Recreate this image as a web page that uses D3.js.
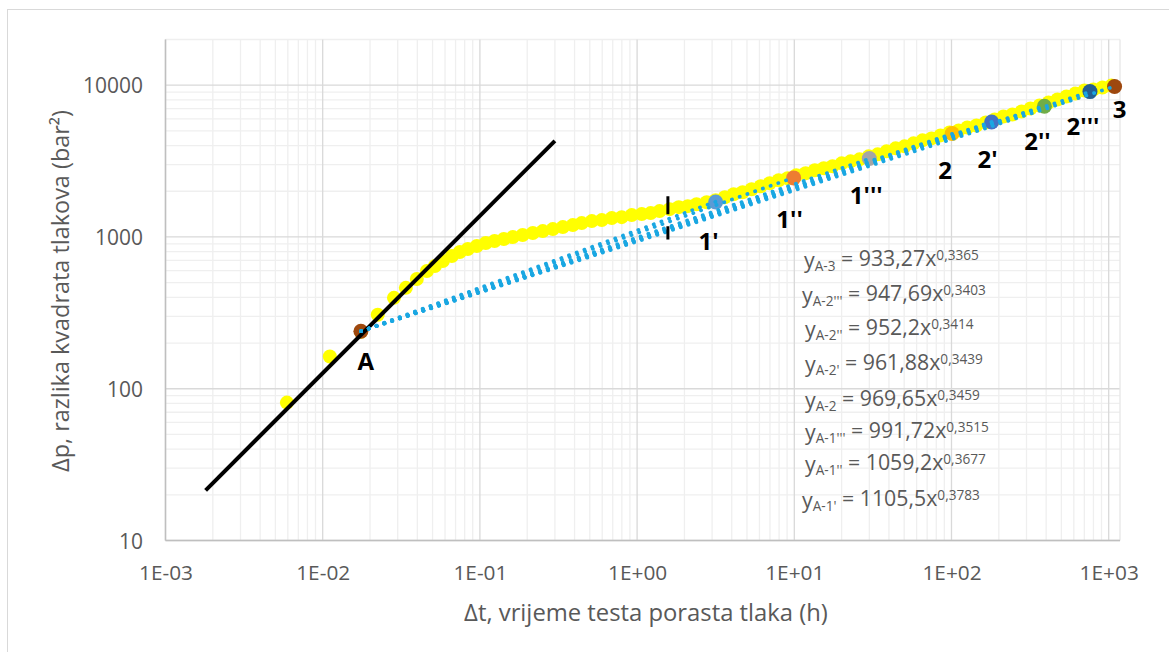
<!DOCTYPE html>
<html><head><meta charset="utf-8">
<script src="https://cdn.jsdelivr.net/npm/d3@7"></script>
<style>
html,body{margin:0;padding:0;background:#fff;}
svg{display:block;font-family:"Open Sans",sans-serif;}
</style></head>
<body>
<svg id="chart" width="1169" height="652"></svg>
<script>
// ---------- DATA ----------
const xTickValues = [1e-3, 1e-2, 1e-1, 1, 10, 100, 1000];
const xTickLabels = ["1E-03","1E-02","1E-01","1E+00","1E+01","1E+02","1E+03"];
const yTickValues = [10, 100, 1000, 10000];
const yTickLabels = ["10","100","1000","10000"];
const xDomain = [1e-3, 1180];
const yDomain = [10, 20000];

// measured pressure-buildup data (yellow)
const dataT = [0.00592,0.0111,0.0175,0.0224,0.0284,0.0338,0.0397,0.046,0.0517,0.0581,0.0663,0.0745,0.0838,0.0956,0.109,0.124,0.142,0.162,0.187,0.217,0.251,0.291,0.337,0.390,0.444,0.515,0.596,0.690,0.798,0.924,1.07,1.22,1.39,1.61,1.84,2.10,2.39,2.77,3.16,3.61,4.11,4.69,5.35,6.11,6.97,7.95,9.07,10.3,11.8,13.5,15.4,17.5,20.0,22.8,26.0,29.7,33.9,38.6,44.1,50.3,57.3,65.4,74.6,85.1,97.1,111,126,144,165,188,214,244,279,318,363,414,472,538,614,701,799,912,1040];
const dataP = [81,163,237,307,397,462,529,597,644,695,749,796,833,871,912,940,969,998,1029,1061,1093,1127,1161,1197,1234,1272,1291,1331,1351,1393,1414,1436,1480,1525,1572,1596,1644,1695,1747,1828,1913,1972,2063,2159,2259,2363,2436,2550,2628,2750,2835,2921,3056,3150,3247,3398,3502,3664,3835,3954,4137,4329,4462,4669,4885,5034,5268,5429,5680,5943,6219,6412,6709,7020,7346,7687,8043,8416,8808,9217,9357,9645,9940];

// selected points
const pointNames  = ["A","1'","1''","1'''","2","2'","2''","2'''","3"];
const pointT      = [0.0175, 3.16, 9.9, 30, 101, 180, 390, 760, 1090];
const pointP      = [239, 1700, 2450, 3290, 4800, 5720, 7270, 9070, 9800];
const pointColors = ["#9e480e","#5b9bd5","#ed7d31","#a5a5a5","#ffc000","#4472c4","#70ad47","#255e91","#9e480e"];

// power-law trendlines from A to each point: y = a * x^b
const eqNames  = ["A-3","A-2'''","A-2''","A-2'","A-2","A-1'''","A-1''","A-1'"];
const eqTarget = ["3","2'''","2''","2'","2","1'''","1''","1'"];
const eqA = [933.27, 947.69, 952.2, 961.88, 969.65, 991.72, 1059.2, 1105.5];
const eqB = [0.3365, 0.3403, 0.3414, 0.3439, 0.3459, 0.3515, 0.3677, 0.3783];

// unit-slope (wellbore storage) line
const storageT = [0.0018, 0.30];
const storageP = [21.4, 4300];

// vertical dashed marker
const markerT = [1.57, 1.57];
const markerP = [964, 1854];

// ---------- LAYOUT ----------
const L = 165.5, R = 1120, T = 39.5, B = 540.5;
const labelOffsets = [[5,30],[-7,40],[-4,42],[-3,37],[-7,37],[-4,37],[-7,35],[-7,35],[5,23]];
const eqPos = [[804,268],[802,303],[805,337],[805,372],[805,408],[805,440],[805,472],[802,508]];

const svg = d3.select("#chart");
const x = d3.scaleLog().domain(xDomain).range([L, R]);
const y = d3.scaleLog().domain(yDomain).range([B, T]);

function fitFont(sel, target) {
  const base = 20;
  sel.attr("font-size", base);
  const w = sel.node().getComputedTextLength();
  const fs = base * target / w;
  sel.attr("font-size", fs);
  return fs;
}

// outer chart border
svg.append("rect").attr("x",7.5).attr("y",9.5).attr("width",1200).attr("height",700)
  .attr("fill","#fff").attr("stroke","#d9d9d9").attr("stroke-width",1);

// gridlines
const g = svg.append("g");
const minorX = [], minorY = [];
for (let e = -3; e <= 3; e++) for (let m = 2; m <= 9; m++) { const v = m*Math.pow(10,e); if (v < xDomain[1]) minorX.push(v); }
for (let e = 1; e <= 4; e++) for (let m = 2; m <= 9; m++) { const v = m*Math.pow(10,e); if (v <= yDomain[1]) minorY.push(v); }
g.selectAll(".mx").data(minorX).enter().append("line")
  .attr("x1",d=>x(d)).attr("x2",d=>x(d)).attr("y1",T).attr("y2",B)
  .attr("stroke","#efefef").attr("stroke-width",1.3);
g.selectAll(".my").data(minorY).enter().append("line")
  .attr("y1",d=>y(d)).attr("y2",d=>y(d)).attr("x1",L).attr("x2",R)
  .attr("stroke","#efefef").attr("stroke-width",1.3);
g.selectAll(".Mx").data(xTickValues).enter().append("line")
  .attr("x1",d=>x(d)).attr("x2",d=>x(d)).attr("y1",T).attr("y2",B)
  .attr("stroke","#d9d9d9").attr("stroke-width",1.3);
g.selectAll(".My").data(yTickValues).enter().append("line")
  .attr("y1",d=>y(d)).attr("y2",d=>y(d)).attr("x1",L).attr("x2",R)
  .attr("stroke","#d9d9d9").attr("stroke-width",1.3);
g.append("line").attr("x1",R).attr("x2",R).attr("y1",T).attr("y2",B).attr("stroke","#e6e6e6").attr("stroke-width",1.3);
g.append("line").attr("x1",L).attr("x2",L).attr("y1",T).attr("y2",B).attr("stroke","#bfbfbf").attr("stroke-width",1.5);
g.append("line").attr("x1",L).attr("x2",R).attr("y1",B).attr("y2",B).attr("stroke","#bfbfbf").attr("stroke-width",1.3);

// axes
const xAxis = d3.axisBottom(x).tickValues(xTickValues).tickSize(0)
  .tickFormat((d,i)=>xTickLabels[i]);
const xa = svg.append("g").attr("transform",`translate(0,${B})`).call(xAxis);
xa.select(".domain").remove();
const xt0 = xa.select(".tick text").attr("font-family","Open Sans");
const xfs = fitFont(xt0, 54);
xa.selectAll("text").attr("font-family","Open Sans").attr("font-size",xfs).attr("fill","#595959")
  .attr("y",0).attr("dy",0).attr("transform","translate(0,39)");
const yAxis = d3.axisLeft(y).tickValues(yTickValues).tickSize(0)
  .tickFormat((d,i)=>yTickLabels[i]);
const ya = svg.append("g").attr("transform",`translate(${L},0)`).call(yAxis);
ya.select(".domain").remove();
const yt0 = ya.selectAll(".tick text").filter((d,i)=>i===3).attr("font-family","Open Sans");
const yfs = fitFont(yt0, 60);
ya.selectAll("text").attr("font-family","Open Sans").attr("font-size",yfs).attr("fill","#595959")
  .attr("x",-22.5).attr("dy","0.36em");

// axis titles
const xTitle = svg.append("text").attr("x",646).attr("y",621).attr("text-anchor","middle")
  .attr("fill","#595959").text("Δt, vrijeme testa porasta tlaka (h)");
fitFont(xTitle, 364);
const yTitle = svg.append("text").attr("transform","translate(61,291) rotate(-90)").attr("text-anchor","middle")
  .attr("dy","0.35em").attr("fill","#595959").text("Δp, razlika kvadrata tlakova (bar²)");
fitFont(yTitle, 362);

// data points (yellow)
const yellow = dataT.map((t,i)=>({t, p:dataP[i]}));
svg.append("g").selectAll("circle").data(yellow).enter().append("circle")
  .attr("cx",d=>x(d.t)).attr("cy",d=>y(d.p)).attr("r",7).attr("fill","#ffff00");

// selected points
const pts = pointNames.map((n,i)=>({n, t:pointT[i], p:pointP[i], c:pointColors[i], o:labelOffsets[i]}));
svg.append("g").selectAll("circle").data(pts).enter().append("circle")
  .attr("cx",d=>x(d.t)).attr("cy",d=>y(d.p)).attr("r",7.5).attr("fill",d=>d.c);

// storage line
svg.append("line").attr("x1",x(storageT[0])).attr("y1",y(storageP[0]))
  .attr("x2",x(storageT[1])).attr("y2",y(storageP[1]))
  .attr("stroke","#000").attr("stroke-width",4);

// trendlines
const tA = pointT[0];
const trends = eqNames.map((n,i)=>{
  const tE = pointT[pointNames.indexOf(eqTarget[i])];
  return {n, a:eqA[i], b:eqB[i], t0:tA, t1:tE};
});
svg.append("g").selectAll("line").data(trends).enter().append("line")
  .attr("x1",d=>x(d.t0)).attr("y1",d=>y(d.a*Math.pow(d.t0,d.b)))
  .attr("x2",d=>x(d.t1)).attr("y2",d=>y(d.a*Math.pow(d.t1,d.b)))
  .attr("stroke","#1aa7e2").attr("stroke-width",3.6)
  .attr("stroke-linecap","round").attr("stroke-dasharray","0.3 7.9");

// marker
svg.append("line").attr("x1",x(markerT[0])).attr("x2",x(markerT[1]))
  .attr("y1",y(markerP[1])).attr("y2",y(markerP[0]))
  .attr("stroke","#000").attr("stroke-width",3).attr("stroke-dasharray","18 12");

// point labels
svg.append("g").selectAll("text").data(pts).enter().append("text")
  .attr("x",d=>x(d.t)+d.o[0]).attr("y",d=>y(d.p)+d.o[1]+8.5)
  .attr("text-anchor","middle").attr("font-size",24).attr("font-weight","bold").attr("fill","#000")
  .text(d=>d.n);

// equations
const fmt = v => String(v).replace(".", ",");
const eqTexts = [];
trends.forEach((d,i)=>{
  const t = svg.append("text").attr("x",eqPos[i][0]).attr("y",eqPos[i][1])
    .attr("font-size",20).attr("fill","#595959");
  t.append("tspan").text("y");
  t.append("tspan").attr("font-size","0.64em").attr("dy","0.25em").text(d.n);
  t.append("tspan").attr("dy","-0.25em").text(" = " + fmt(d.a) + "x");
  t.append("tspan").attr("font-size","0.64em").attr("dy","-0.45em").text(fmt(d.b));
  eqTexts.push(t);
});
const efs = fitFont(eqTexts[0], 175);
eqTexts.forEach(t => t.attr("font-size", efs));
</script>
</body></html>
